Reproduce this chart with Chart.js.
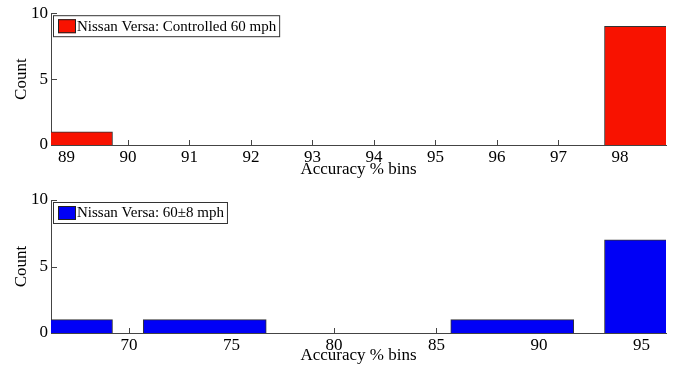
<!DOCTYPE html>
<html>
<head>
<meta charset="utf-8">
<script src="https://cdn.jsdelivr.net/npm/chart.js@4/dist/chart.umd.min.js"></script>
<style>
    html, body { margin: 0; padding: 0; background: #fff; }
    .panel { position: absolute; left: 0; width: 673px; }
    #topPanel { top: 0; height: 185px; }
    #bottomPanel { top: 185px; height: 183px; }
</style>
</head>
<body>
<div class="panel" id="topPanel"><canvas id="chartTop"></canvas></div>
<div class="panel" id="bottomPanel"><canvas id="chartBottom"></canvas></div>
<script>
// ====== DATA ======
const TOP_LABEL = 'Nissan Versa: Controlled 60 mph';
const TOP_BIN_CENTERS = [88.75, 91.25, 93.75, 96.25, 98.75];
const TOP_COUNTS = [1, 0, 0, 0, 9];
const TOP_TICKS = [89, 90, 91, 92, 93, 94, 95, 96, 97, 98];

const BOTTOM_LABEL = 'Nissan Versa: 60\u00b18 mph';
const BOTTOM_BIN_CENTERS = [66.2, 73.7, 81.2, 88.7, 96.2];
const BOTTOM_COUNTS = [1, 1, 0, 1, 7];
const BOTTOM_TICKS = [70, 75, 80, 85, 90, 95];

const COUNT_TICKS = [0, 5, 10];

// ====== STYLE ======
const FONT = "'Liberation Serif', 'Times New Roman', serif";
const AXIS_COLOR = '#444';
const TEXT_COLOR = '#000';
const RED = '#f81200';
const BLUE = '#0000f6';

// ticks drawn inside the axes (matlab style), under the bars
const inwardTicks = {
    id: 'inwardTicks',
    beforeDatasetsDraw(chart) {
        const { ctx, chartArea, scales } = chart;
        ctx.save();
        ctx.strokeStyle = AXIS_COLOR;
        ctx.lineWidth = 1;
        ctx.beginPath();
        scales.x.ticks.forEach(t => {
            const px = Math.round(scales.x.getPixelForValue(t.value)) + 0.5;
            ctx.moveTo(px, chartArea.bottom);
            ctx.lineTo(px, chartArea.bottom - 5);
        });
        scales.y.ticks.forEach(t => {
            const py = Math.round(scales.y.getPixelForValue(t.value)) + 0.5;
            ctx.moveTo(chartArea.left, py);
            ctx.lineTo(chartArea.left + 6, py);
        });
        ctx.stroke();
        ctx.restore();
    }
};

// boxed legend in the top-left corner of the axes
const boxedLegend = {
    id: 'boxedLegend',
    afterDatasetsDraw(chart) {
        const { ctx, chartArea } = chart;
        const ds = chart.data.datasets[0];
        ctx.save();
        ctx.font = '15px ' + FONT;
        const tw = ctx.measureText(ds.label).width;
        const x0 = chartArea.left + 2, y0 = chartArea.top + 2;
        const h = 21, w = 25 + tw + 2;
        ctx.fillStyle = '#fff';
        ctx.fillRect(x0, y0, w, h);
        ctx.strokeStyle = '#333';
        ctx.lineWidth = 1;
        ctx.strokeRect(x0 + 0.5, y0 + 0.5, w, h);
        ctx.fillStyle = ds.backgroundColor;
        ctx.fillRect(x0 + 5, y0 + 4, 18, 14);
        ctx.strokeStyle = '#222';
        ctx.strokeRect(x0 + 5.5, y0 + 4.5, 17, 13);
        ctx.fillStyle = TEXT_COLOR;
        ctx.textBaseline = 'middle';
        ctx.fillText(ds.label, x0 + 24, y0 + h / 2 + 1);
        ctx.restore();
    }
};

function makeHistogram(canvasId, opts) {
    const points = opts.centers.map((c, i) => ({ x: c, y: opts.counts[i] }));
    return new Chart(document.getElementById(canvasId), {
        type: 'bar',
        data: {
            datasets: [{
                label: opts.label,
                data: points,
                backgroundColor: opts.color,
                borderColor: '#333',
                borderWidth: 1,
                barThickness: 'flex',
                barPercentage: 0.8,
                categoryPercentage: 1.0,
            }]
        },
        plugins: [inwardTicks, boxedLegend],
        options: {
            responsive: true,
            maintainAspectRatio: false,
            animation: false,
            layout: { padding: { top: opts.padTop, right: 7, left: 0, bottom: 0 } },
            plugins: {
                legend: { display: false },
                tooltip: { enabled: false }
            },
            scales: {
                x: {
                    type: 'linear',
                    offset: false,
                    min: opts.centers[0],
                    max: opts.centers[opts.centers.length - 1],
                    afterBuildTicks: s => { s.ticks = opts.ticks.map(v => ({ value: v })); },
                    afterFit: s => { s.height = opts.xHeight; },
                    grid: { display: false, drawTicks: false },
                    border: { display: true, color: AXIS_COLOR, width: 1 },
                    ticks: {
                        padding: 2,
                        maxRotation: 0,
                        autoSkip: false,
                        color: TEXT_COLOR,
                        font: { family: FONT, size: 17 }
                    },
                    title: {
                        display: true,
                        text: 'Accuracy % bins',
                        color: TEXT_COLOR,
                        font: { family: FONT, size: 17 },
                        padding: { top: 0, bottom: opts.titlePad }
                    }
                },
                y: {
                    min: 0,
                    max: 10,
                    afterBuildTicks: s => { s.ticks = COUNT_TICKS.map(v => ({ value: v })); },
                    afterFit: s => { s.width = 51; },
                    grid: { display: false, drawTicks: false },
                    border: { display: true, color: AXIS_COLOR, width: 1 },
                    ticks: {
                        padding: 3,
                        color: TEXT_COLOR,
                        font: { family: FONT, size: 17 }
                    },
                    title: {
                        display: true,
                        text: 'Count',
                        color: TEXT_COLOR,
                        font: { family: FONT, size: 17 },
                        padding: { top: 11, bottom: 0 }
                    }
                }
            }
        }
    });
}

// ====== INIT ======
document.addEventListener('DOMContentLoaded', () => {
    makeHistogram('chartTop', {
        label: TOP_LABEL, centers: TOP_BIN_CENTERS, counts: TOP_COUNTS, ticks: TOP_TICKS,
        color: RED, padTop: 10, xHeight: 40, titlePad: 5
    });
    makeHistogram('chartBottom', {
        label: BOTTOM_LABEL, centers: BOTTOM_BIN_CENTERS, counts: BOTTOM_COUNTS, ticks: BOTTOM_TICKS,
        color: BLUE, padTop: 15, xHeight: 35, titlePad: 2
    });
});
</script>
</body>
</html>
